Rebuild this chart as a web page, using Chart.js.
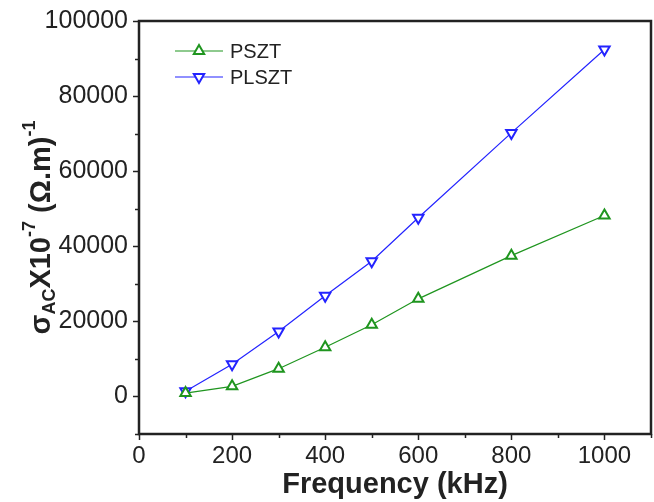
<!DOCTYPE html>
<html>
<head>
<meta charset="utf-8">
<script src="https://cdn.jsdelivr.net/npm/chart.js@4/dist/chart.umd.min.js"></script>
<style>
  html, body { margin: 0; padding: 0; background: #fff; }
  #wrap { width: 654px; height: 502px; }
</style>
</head>
<body>
<div id="wrap"><canvas id="c" width="654" height="502"></canvas></div>
<script>
const frequency = [100, 200, 300, 400, 500, 600, 800, 1000];
const psztValues = [900, 2700, 7400, 13100, 19100, 26000, 37500, 48200];
const plsztValues = [1400, 8600, 17300, 26800, 36000, 47600, 70200, 92400];
const seriesNames = ["PSZT", "PLSZT"];

const FONT = "'Liberation Sans', Arial, sans-serif";
const INK = "#222";
const GREEN = "#1f951f";
const BLUE = "#2323ff";

// outside tick marks (major + minor) and the box frame
const frameTicks = {
  id: "frameTicks",
  afterDraw(chart) {
    const ctx = chart.ctx;
    const a = chart.chartArea;
    ctx.save();
    ctx.strokeStyle = INK;
    ctx.lineWidth = 1.5;
    const xs = chart.scales.x, ys = chart.scales.y;
    xs.ticks.forEach((t) => {
      const px = Math.round(xs.getPixelForValue(t.value)) + 0.5;
      const len = t.value % 200 === 0 && t.value <= 1000 ? 6 : 4;
      ctx.beginPath();
      ctx.moveTo(px, a.bottom);
      ctx.lineTo(px, a.bottom + len);
      ctx.stroke();
    });
    ys.ticks.forEach((t) => {
      const py = Math.round(ys.getPixelForValue(t.value)) + 0.5;
      const len = t.value % 20000 === 0 ? 6 : 4;
      ctx.beginPath();
      ctx.moveTo(a.left, py);
      ctx.lineTo(a.left - len, py);
      ctx.stroke();
    });
    ctx.lineWidth = 2.5;
    ctx.strokeRect(a.left, a.top, a.right - a.left, a.bottom - a.top);
    ctx.restore();
  },
};

// legend inside the plot, top-left
const innerLegend = {
  id: "innerLegend",
  afterDraw(chart) {
    const ctx = chart.ctx;
    const a = chart.chartArea;
    ctx.save();
    chart.data.datasets.forEach((ds, i) => {
      const y = a.top + 30 + i * 26;
      const x0 = a.left + 36;
      ctx.strokeStyle = ds.borderColor;
      ctx.lineWidth = 1.2;
      ctx.beginPath();
      ctx.moveTo(x0, y);
      ctx.lineTo(x0 + 48, y);
      ctx.stroke();
      ctx.fillStyle = "#fff";
      ctx.strokeStyle = ds.pointBorderColor;
      ctx.lineWidth = 2;
      Chart.helpers.drawPoint(ctx, {
        pointStyle: "triangle",
        rotation: ds.pointRotation,
        radius: 6,
        borderWidth: 2,
      }, x0 + 24, y);
      ctx.fillStyle = INK;
      ctx.font = "20px " + FONT;
      ctx.textBaseline = "middle";
      ctx.fillText(ds.label, x0 + 55, y + 1);
    });
    ctx.restore();
  },
};

// y title with sub/superscripts: σ_AC X10^-7 (Ω.m)^-1
const yTitle = {
  id: "yTitle",
  afterDraw(chart) {
    const ctx = chart.ctx;
    const a = chart.chartArea;
    const big = "bold 29px " + FONT;
    const small = "bold 18px " + FONT;
    const parts = [
      { t: "σ", f: big, dy: 0 },
      { t: "AC", f: small, dy: 8 },
      { t: "X10", f: big, dy: 0 },
      { t: "-7", f: small, dy: -12 },
      { t: " (Ω.m)", f: big, dy: 0 },
      { t: "-1", f: small, dy: -12 },
    ];
    ctx.save();
    let total = 0;
    parts.forEach((p) => { ctx.font = p.f; p.w = ctx.measureText(p.t).width; total += p.w; });
    ctx.translate(33, (a.top + a.bottom) / 2);
    ctx.rotate(-Math.PI / 2);
    ctx.fillStyle = INK;
    ctx.textBaseline = "middle";
    let x = -total / 2;
    parts.forEach((p) => {
      ctx.font = p.f;
      ctx.fillText(p.t, x, p.dy + 9);
      x += p.w;
    });
    ctx.restore();
  },
};

new Chart(document.getElementById("c"), {
  type: "line",
  data: {
    labels: frequency,
    datasets: [
      {
        label: seriesNames[0],
        data: frequency.map((f, i) => ({ x: f, y: psztValues[i] })),
        borderColor: GREEN,
        borderWidth: 1.2,
        pointStyle: "triangle",
        pointRotation: 0,
        pointRadius: 6,
        pointBorderWidth: 2,
        pointBorderColor: GREEN,
        pointBackgroundColor: "#fff",
        tension: 0,
      },
      {
        label: seriesNames[1],
        data: frequency.map((f, i) => ({ x: f, y: plsztValues[i] })),
        borderColor: BLUE,
        borderWidth: 1.2,
        pointStyle: "triangle",
        pointRotation: 180,
        pointRadius: 6,
        pointBorderWidth: 2,
        pointBorderColor: BLUE,
        pointBackgroundColor: "#fff",
        tension: 0,
      },
    ],
  },
  options: {
    responsive: false,
    animation: false,
    layout: { autoPadding: false, padding: { top: 21, right: 3, left: 0, bottom: 0 } },
    scales: {
      x: {
        type: "linear",
        min: 0,
        max: 1100,
        afterFit: (s) => { s.height = 68; s.paddingLeft = 0; s.paddingRight = 0; },
        ticks: {
          stepSize: 100,
          autoSkip: false,
          maxRotation: 0,
          padding: 2,
          color: INK,
          font: { family: FONT, size: 24 },
          callback: (v) => (v % 200 === 0 && v <= 1000 ? v : ""),
        },
        grid: { display: false, drawTicks: true, tickLength: 6 },
        border: { display: false },
        title: {
          display: true,
          text: "Frequency (kHz)",
          color: INK,
          font: { family: FONT, size: 29, weight: "bold" },
          padding: { top: 0, bottom: 0 },
        },
      },
      y: {
        min: -10000,
        max: 100000,
        afterFit: (s) => { s.width = 139; s.paddingTop = 0; s.paddingBottom = 0; },
        ticks: {
          stepSize: 10000,
          autoSkip: false,
          padding: 5,
          color: INK,
          font: { family: FONT, size: 25 },
          callback: (v) => (v % 20000 === 0 ? v : ""),
        },
        grid: { display: false, drawTicks: true, tickLength: 6 },
        border: { display: false },
      },
    },
    plugins: {
      legend: { display: false },
      tooltip: { enabled: false },
    },
  },
  plugins: [frameTicks, innerLegend, yTitle],
});
</script>
</body>
</html>
